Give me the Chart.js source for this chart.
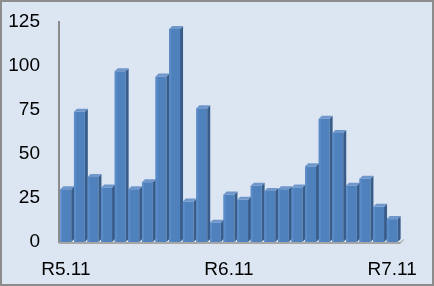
<!DOCTYPE html>
<html>
<head>
<meta charset="utf-8">
<script src="https://cdn.jsdelivr.net/npm/chart.js@4"></script>
<style>
  html, body { margin: 0; padding: 0; background: #fff; }
  #wrap { width: 434px; height: 286px; }
</style>
</head>
<body>
<div id="wrap"><canvas id="myChart" width="434" height="286"></canvas></div>
<script>
// months R5.11 .. R7.11
const months = ["R5.11", "R5.12", "R6.1", "R6.2", "R6.3", "R6.4", "R6.5", "R6.6", "R6.7", "R6.8", "R6.9", "R6.10",
  "R6.11", "R6.12", "R7.1", "R7.2", "R7.3", "R7.4", "R7.5", "R7.6", "R7.7", "R7.8", "R7.9", "R7.10", "R7.11"];
const counts = [30, 74, 37, 31, 97, 30, 34, 94, 121, 23, 76, 11,
  27, 24, 32, 29, 30, 31, 43, 70, 62, 32, 36, 20, 13];
const shownLabels = ["R5.11", "R6.11", "R7.11"];
const yTicks = [0, 25, 50, 75, 100, 125];

const depth = 3;

// background + frame
const frame = {
  id: "frame",
  beforeDraw(chart) {
    const c = chart.ctx;
    c.save();
    c.fillStyle = "#dce6f2";
    c.fillRect(0, 0, chart.width, chart.height);
    c.strokeStyle = "#8c8c8c";
    c.lineWidth = 2;
    c.strokeRect(1, 1, chart.width - 2, chart.height - 2);
    c.restore();
  }
};

// fake 3d sides and tops on each bar
const bar3d = {
  id: "bar3d",
  afterDatasetsDraw(chart) {
    const c = chart.ctx;
    const meta = chart.getDatasetMeta(0);
    c.save();
    meta.data.forEach((b) => {
      const l = b.x - b.width / 2;
      const r = b.x + b.width / 2;
      const top = b.y;
      const base = b.base;
      // light edge on the front face
      c.fillStyle = "#5b8cc8";
      c.fillRect(l, top, 2, base - top);
      c.fillStyle = "#385d8a";
      c.beginPath();
      c.moveTo(r, top);
      c.lineTo(r + depth, top - depth);
      c.lineTo(r + depth, base - depth);
      c.lineTo(r, base);
      c.closePath();
      c.fill();
      c.fillStyle = "#6f97cb";
      c.beginPath();
      c.moveTo(l, top);
      c.lineTo(l + depth, top - depth);
      c.lineTo(r + depth, top - depth);
      c.lineTo(r, top);
      c.closePath();
      c.fill();
    });
    // floor
    const ca = chart.chartArea;
    c.fillStyle = "#a6a6a6";
    c.beginPath();
    c.moveTo(ca.left, ca.bottom);
    c.lineTo(ca.right + 1, ca.bottom);
    c.lineTo(ca.right + depth + 2, ca.bottom - depth);
    c.lineTo(ca.right + depth + 2, ca.bottom - depth + 1);
    c.lineTo(ca.right + 1, ca.bottom + 2);
    c.lineTo(ca.left, ca.bottom + 2);
    c.closePath();
    c.fill();
    c.restore();
  }
};

const ctx = document.getElementById("myChart").getContext("2d");
const myChart = new Chart(ctx, {
  type: "bar",
  data: {
    labels: months,
    datasets: [
      {
        data: counts,
        backgroundColor: "#4f81bd",
        borderWidth: 0,
        barPercentage: 0.8,
        categoryPercentage: 1,
      },
    ],
  },
  options: {
    responsive: false,
    animation: false,
    layout: { padding: { left: 0, top: 0, right: 35, bottom: 0 } },
    plugins: { legend: { display: false }, tooltip: { enabled: false } },
    scales: {
      x: {
        grid: { display: false, drawTicks: false },
        border: { display: false },
        ticks: {
          autoSkip: false,
          maxRotation: 0,
          padding: 16,
          color: "#000",
          font: { family: "Liberation Sans", size: 19 },
          callback: function (v, i) {
            const lab = months[i];
            return shownLabels.includes(lab) ? lab : "";
          },
        },
        afterFit(scale) { scale.height = 44; },
      },
      y: {
        min: 0,
        max: 125,
        afterBuildTicks(scale) { scale.ticks = yTicks.map((v) => ({ value: v })); },
        grid: { display: false, drawTicks: false },
        border: { display: true, color: "#8c8c8c", width: 2 },
        ticks: {
          padding: 19,
          color: "#000",
          font: { family: "Liberation Sans", size: 19 },
        },
        afterFit(scale) { scale.width = 59; scale.paddingTop = 22; scale.paddingBottom = 0; },
      },
    },
  },
  plugins: [frame, bar3d],
});
</script>
</body>
</html>
